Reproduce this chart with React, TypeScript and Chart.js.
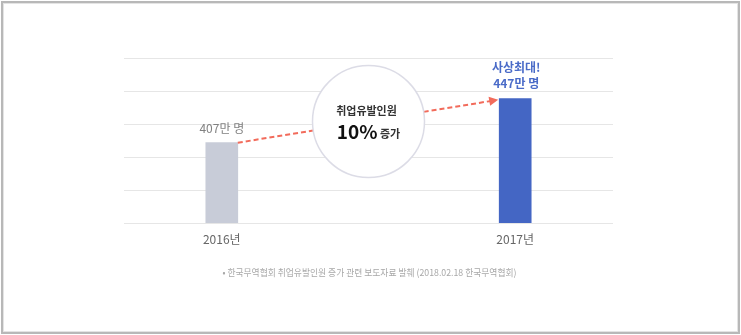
import React, { useEffect, useRef } from "react";
import { Chart, registerables } from "chart.js";

Chart.register(...registerables);

const categories = ["", "2016년", "", "", "2017년", ""];
const values = [null, 407, null, null, 447, null];
const valueLabels = ["", "407만 명", "", "", "447만 명", ""];
const barColors = ["#c8ccd8", "#c8ccd8", "#c8ccd8", "#c8ccd8", "#4466c4", "#4466c4"];
const yMin = 334;
const yMax = 484;
const yStep = 30;
const circleTitle = "취업유발인원";
const circlePercent = "10%";
const circleSuffix = " 증가";
const recordLabel = "사상최대!";
const footnote = "• 한국무역협회 취업유발인원 증가 관련 보도자료 발췌 (2018.02.18 한국무역협회)";

const FONT = '"Noto Sans CJK KR", "Noto Sans", sans-serif';

const overlay = {
  id: "overlay",
  beforeDraw(chart: any) {
    const ctx = chart.ctx;
    ctx.save();
    ctx.fillStyle = "#ffffff";
    ctx.fillRect(0, 0, chart.width, chart.height);
    // frame
    ctx.strokeStyle = "#b8b8b8";
    ctx.lineWidth = 2;
    ctx.strokeRect(2, 2, chart.width - 4, chart.height - 4);
    ctx.strokeStyle = "#e4e4e4";
    ctx.lineWidth = 1;
    ctx.strokeRect(3.5, 3.5, chart.width - 7, chart.height - 7);
    ctx.restore();
  },
  afterDraw(chart: any) {
    const ctx = chart.ctx;
    const xs = chart.scales.x;
    const ys = chart.scales.y;
    const area = chart.chartArea;
    const i0 = 1;
    const i1 = 4;
    const half = 16;
    const x0 = xs.getPixelForValue(i0) + half;
    const y0 = ys.getPixelForValue(values[i0] as number);
    const x1 = xs.getPixelForValue(i1) - half;
    const y1 = ys.getPixelForValue(values[i1] as number);
    const cx = xs.getPixelForValue((i0 + i1) / 2);
    const cy = area.top + 63.5;
    const r = 56;

    ctx.save();
    // dashed lines
    ctx.strokeStyle = "#f26b5b";
    ctx.fillStyle = "#f26b5b";
    ctx.lineWidth = 2;
    ctx.setLineDash([5, 3]);
    let dx = cx - x0, dy = cy - y0;
    let d = Math.hypot(dx, dy);
    ctx.beginPath();
    ctx.moveTo(x0, y0);
    ctx.lineTo(cx - (dx / d) * r, cy - (dy / d) * r);
    ctx.stroke();
    dx = x1 - cx; dy = y1 - cy;
    d = Math.hypot(dx, dy);
    const ux = dx / d, uy = dy / d;
    const sx = cx + ux * r, sy = cy + uy * r;
    const tipX = x1 - 1, tipY = y1 + 1;
    ctx.beginPath();
    ctx.moveTo(sx, sy);
    ctx.lineTo(tipX - ux * 7, tipY - uy * 7);
    ctx.stroke();
    ctx.setLineDash([]);
    ctx.beginPath();
    ctx.moveTo(tipX, tipY);
    ctx.lineTo(tipX - ux * 9 - uy * 4.5, tipY - uy * 9 + ux * 4.5);
    ctx.lineTo(tipX - ux * 9 + uy * 4.5, tipY - uy * 9 - ux * 4.5);
    ctx.closePath();
    ctx.fill();

    // circle
    ctx.beginPath();
    ctx.arc(cx, cy, r, 0, Math.PI * 2);
    ctx.fillStyle = "#ffffff";
    ctx.fill();
    ctx.strokeStyle = "#dcdce6";
    ctx.lineWidth = 1.5;
    ctx.stroke();

    ctx.textBaseline = "middle";
    ctx.textAlign = "center";
    ctx.fillStyle = "#333333";
    ctx.font = `bold 11px ${FONT}`;
    ctx.fillText(circleTitle, cx - 2, cy - 11);

    ctx.textBaseline = "alphabetic";
    ctx.textAlign = "left";
    ctx.font = `bold 19px ${FONT}`;
    const w1 = ctx.measureText(circlePercent).width;
    ctx.font = `bold 11px ${FONT}`;
    const w2 = ctx.measureText(circleSuffix).width;
    const startX = cx - (w1 + w2) / 2;
    const base = cy + 17;
    ctx.fillStyle = "#111111";
    ctx.font = `bold 19px ${FONT}`;
    ctx.fillText(circlePercent, startX, base);
    ctx.fillStyle = "#333333";
    ctx.font = `bold 11px ${FONT}`;
    ctx.fillText(circleSuffix, startX + w1, base - 1);

    // value labels
    ctx.textAlign = "center";
    ctx.textBaseline = "middle";
    ctx.fillStyle = "#808080";
    ctx.font = `12px ${FONT}`;
    ctx.fillText(valueLabels[i0], xs.getPixelForValue(i0), y0 - 14);
    ctx.fillStyle = "#4a6bc8";
    ctx.font = `bold 12px ${FONT}`;
    ctx.fillText(recordLabel, xs.getPixelForValue(i1) + 1, y1 - 31);
    ctx.fillText(valueLabels[i1], xs.getPixelForValue(i1) + 1, y1 - 15);

    // footnote
    ctx.fillStyle = "#a8a8a8";
    ctx.font = `9.5px ${FONT}`;
    const fw = ctx.measureText(footnote).width;
    const target = 294;
    const scale = target / fw;
    ctx.translate(cx + 1, area.bottom + 49);
    ctx.scale(scale, 1);
    ctx.fillText(footnote, 0, 0);
    ctx.restore();
  },
};

export default function App() {
  const ref = useRef<HTMLCanvasElement | null>(null);
  useEffect(() => {
    if (!ref.current) return;
    const chart = new Chart(ref.current, {
      type: "bar",
      data: {
        labels: categories,
        datasets: [
          {
            data: values as any,
            backgroundColor: barColors,
            barThickness: 32,
            borderWidth: 0,
          },
        ],
      },
      options: {
        animation: false,
        responsive: false,
        devicePixelRatio: 1,
        layout: { padding: { left: 124, right: 128, top: 58, bottom: 0 } },
        plugins: { legend: { display: false }, tooltip: { enabled: false } },
        scales: {
          x: {
            offset: false,
            grid: { display: false, drawTicks: false },
            border: { display: false },
            ticks: {
              color: "#666666",
              font: { size: 12, family: FONT },
              padding: 9,
              maxRotation: 0,
              autoSkip: false,
            },
            afterFit(scale: any) {
              scale.height = 112;
            },
          },
          y: {
            min: yMin,
            max: yMax,
            ticks: { display: false, stepSize: yStep },
            grid: { color: "#e6e6e6", drawTicks: false, lineWidth: 1 },
            border: { display: false },
            afterFit(scale: any) {
              scale.width = 0;
            },
          },
        },
      },
      plugins: [overlay],
    });
    return () => chart.destroy();
  }, []);
  return (
    <div style={{ position: "fixed", left: 0, top: 0, width: 741, height: 335 }}>
      <canvas ref={ref} width={741} height={335} style={{ display: "block" }} />
    </div>
  );
}
